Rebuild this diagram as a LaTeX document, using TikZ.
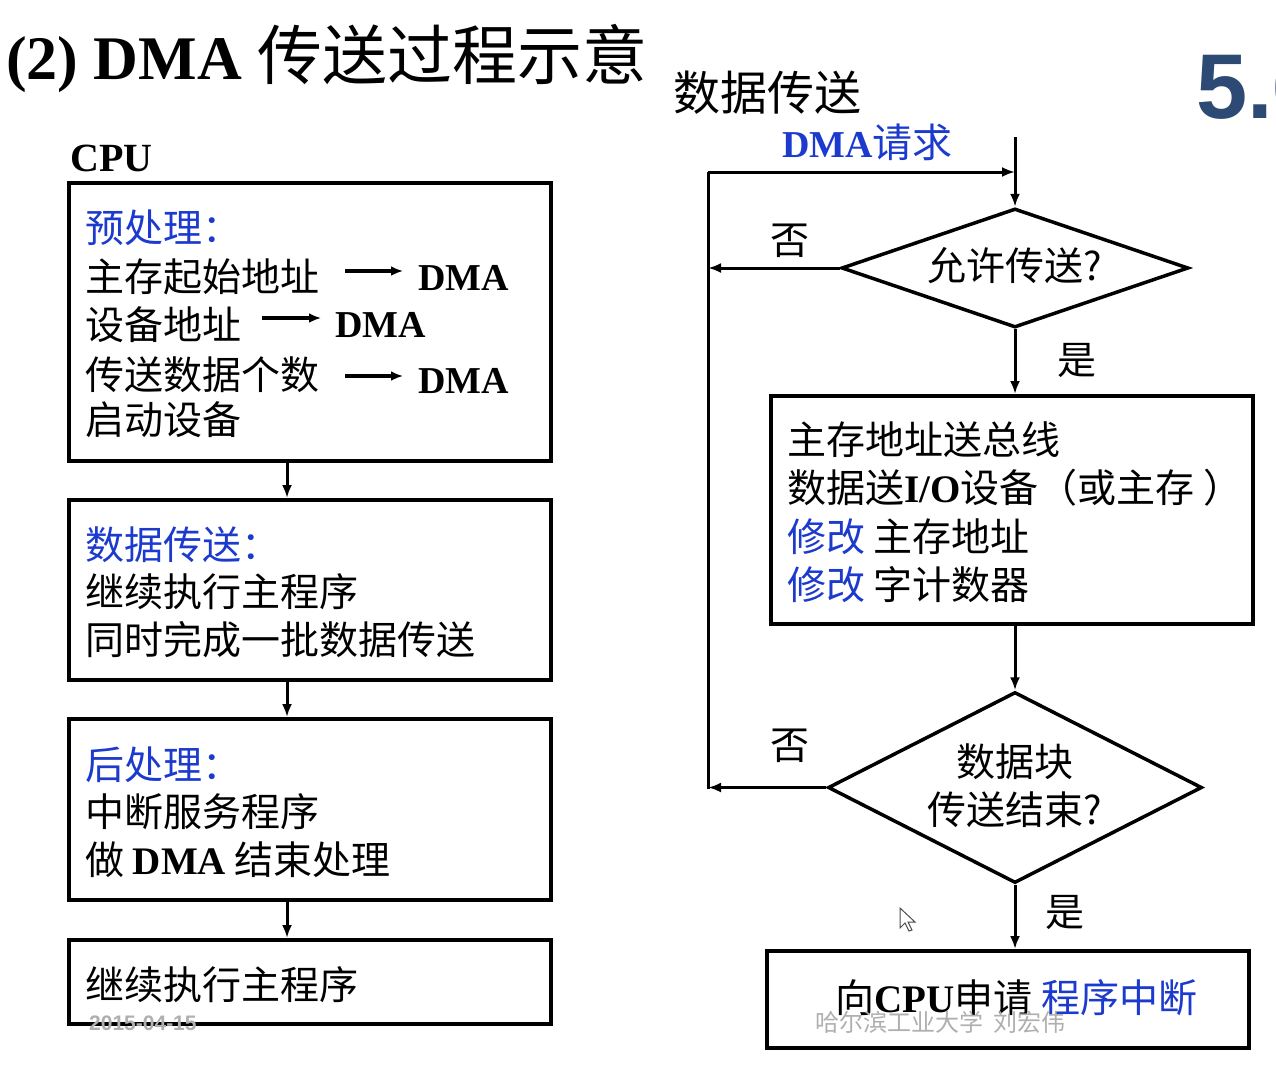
\documentclass[tikz,border=0pt]{standalone}
\usepackage{fontspec}
\setmainfont{Liberation Serif}
\newfontfamily\cjk{Noto Sans CJK SC}
\newfontfamily\sansfam{Liberation Sans}
\usetikzlibrary{arrows.meta,shapes.geometric}
\definecolor{hlblue}{RGB}{28,58,205}
\definecolor{numblue}{RGB}{44,74,116}
\definecolor{wmgray}{RGB}{175,175,175}
\newcommand\latb[1]{{\rmfamily\bfseries #1}}
\tikzset{
  box/.style={draw, line width=4pt, minimum width=482pt, inner sep=0pt},
  decide/.style={draw, diamond, line width=3.5pt, inner sep=0pt},
  dtext/.style={inner sep=0pt, align=center, font=\cjk\fontsize{39}{46}\selectfont},
  txt/.style={anchor=base west, inner sep=0pt, font=\cjk\fontsize{39}{46}\selectfont},
  lbl/.style={anchor=base, inner sep=0pt, font=\cjk\fontsize{39}{46}\selectfont},
  flow/.style={line width=3pt, -{Latex[length=13pt,width=10pt]}},
  wire/.style={line width=3pt},
  glyph/.style={line width=3.2pt, -{Latex[length=12pt,width=10pt]}},
}
\begin{document}
\begin{tikzpicture}[x=1pt,y=-1pt]
\useasboundingbox[fill=white] (0,0) rectangle (1276,1071);

% headings
\node[anchor=base west, inner sep=0pt, font=\fontsize{62}{70}\selectfont] (title) at (6,79)
  {\bfseries (2) DMA {\cjk\mdseries\fontsize{65}{70}\selectfont 传送过程示意}};
\node[anchor=base west, inner sep=0pt, text=numblue, font=\sansfam\bfseries\fontsize{92}{100}\selectfont] (secno) at (1196,118) {5.6};
\node[anchor=base west, inner sep=0pt, font=\bfseries\fontsize{40}{46}\selectfont] (cpu) at (70,171) {CPU};
\node[anchor=base west, inner sep=0pt, font=\cjk\fontsize{47}{54}\selectfont] (xfer) at (673,110) {数据传送};

% ---------- CPU side ----------
\node[box, minimum height=278pt] (b1) at (310,322) {};
\node[box, minimum height=180pt] (b2) at (310,590) {};
\node[box, minimum height=181pt] (b3) at (310,809.5) {};
\node[box, minimum height=84pt]  (b4) at (310,982) {};

\node[txt, text=hlblue] (p0) at (85,242) {预处理：};
\node[txt] (p1) at (85,291) {主存起始地址};
\node[txt] (p2) at (85,339) {设备地址};
\node[txt] (p3) at (85,389) {传送数据个数};
\node[txt] (p4) at (85,434) {启动设备};
\node[anchor=base west, inner sep=0pt, font=\bfseries\fontsize{38}{44}\selectfont] (q1) at (418,290) {DMA};
\node[anchor=base west, inner sep=0pt, font=\bfseries\fontsize{38}{44}\selectfont] (q2) at (335,337) {DMA};
\node[anchor=base west, inner sep=0pt, font=\bfseries\fontsize{38}{44}\selectfont] (q3) at (418,393) {DMA};
\coordinate (g1a) at (345,271); \coordinate (g1b) at (403,271);
\coordinate (g2a) at (262,318); \coordinate (g2b) at (321,318);
\coordinate (g3a) at (345,376); \coordinate (g3b) at (403,376);
\draw[glyph] (g1a) -- (g1b);
\draw[glyph] (g2a) -- (g2b);
\draw[glyph] (g3a) -- (g3b);

\node[txt, text=hlblue] (s0) at (85,559) {数据传送：};
\node[txt] (s1) at (85,606) {继续执行主程序};
\node[txt] (s2) at (85,654) {同时完成一批数据传送};

\node[txt, text=hlblue] (e0) at (85,779) {后处理：};
\node[txt] (e1) at (85,826) {中断服务程序};
\node[txt] (e2) at (85,874) {做 \latb{DMA} 结束处理};

\node[txt] (c1) at (85,999) {继续执行主程序};

\draw[flow] ([xshift=-23pt]b1.south) -- ([xshift=-23pt]b2.north);
\draw[flow] ([xshift=-23pt]b2.south) -- ([xshift=-23pt]b3.north);
\draw[flow] ([xshift=-23pt]b3.south) -- ([xshift=-23pt]b4.north);

% ---------- DMA side ----------
\node[anchor=base west, inner sep=0pt, text=hlblue, font=\cjk\fontsize{40}{44}\selectfont] (req) at (782,157)
  {{\fontsize{38}{44}\selectfont\latb{DMA}}请求};
\coordinate (in) at (1015,137);
\node[decide, minimum width=347pt, minimum height=119pt] (d1) at (1015,268) {};
\node[dtext] (d1t) at (1015,266) {允许传送?};
\node[box, minimum height=228pt] (r1) at (1012,510) {};
\node[decide, minimum width=374pt, minimum height=191pt] (d2) at (1015,787.5) {};
\node[dtext] (d2t) at (1015,786) {数据块\\[2pt]传送结束?};
\node[box, minimum height=97pt] (r2) at (1008,999.5) {};

\node[txt] (m1) at (787,454) {主存地址送总线};
\node[txt] (m2) at (787,502) {数据送\latb{I/O}设备（或主存 ）};
\node[txt] (m3) at (787,551) {\textcolor{hlblue}{修改} 主存地址};
\node[txt] (m4) at (787,599) {\textcolor{hlblue}{修改} 字计数器};
\node[txt] (n1) at (835,1012) {向\latb{CPU}申请 \textcolor{hlblue}{程序中断}};

\node[lbl] (no1) at (790,254) {否};
\node[lbl] (yes1) at (1077,374) {是};
\node[lbl] (no2) at (790,759) {否};
\node[lbl] (yes2) at (1065,926) {是};

\coordinate (lt) at (708,172);
\coordinate (lb) at (708,789);
\draw[wire] (lb) -- (lt);
\draw[flow] (in) -- (d1.north);
\draw[flow] (lt) -- (lt -| d1.north);
\draw[flow] (d1.west) -- (d1.west -| lt);
\draw[flow] (d1.south) -- (d1.south |- r1.north);
\draw[flow] (r1.south -| d1.south) -- (d2.north);
\draw[flow] (d2.west) -- (d2.west -| lt);
\draw[flow] (d2.south) -- (d2.south |- r2.north);

% pointer
\draw[line width=1pt, fill=white, draw=black!70] (900,908) -- (900,928) -- (905,923) -- (909,931)
  -- (912,930) -- (908,922) -- (915,922) -- cycle;

% watermarks
\node[anchor=base west, inner sep=0pt, text=wmgray, font=\sansfam\bfseries\fontsize{21}{24}\selectfont] (date) at (89,1030) {2015-04-15};
\node[anchor=base west, inner sep=0pt, text=wmgray, font=\cjk\fontsize{24}{28}\selectfont] (mark) at (815,1031) {哈尔滨工业大学 \ 刘宏伟};
\end{tikzpicture}
\end{document}
